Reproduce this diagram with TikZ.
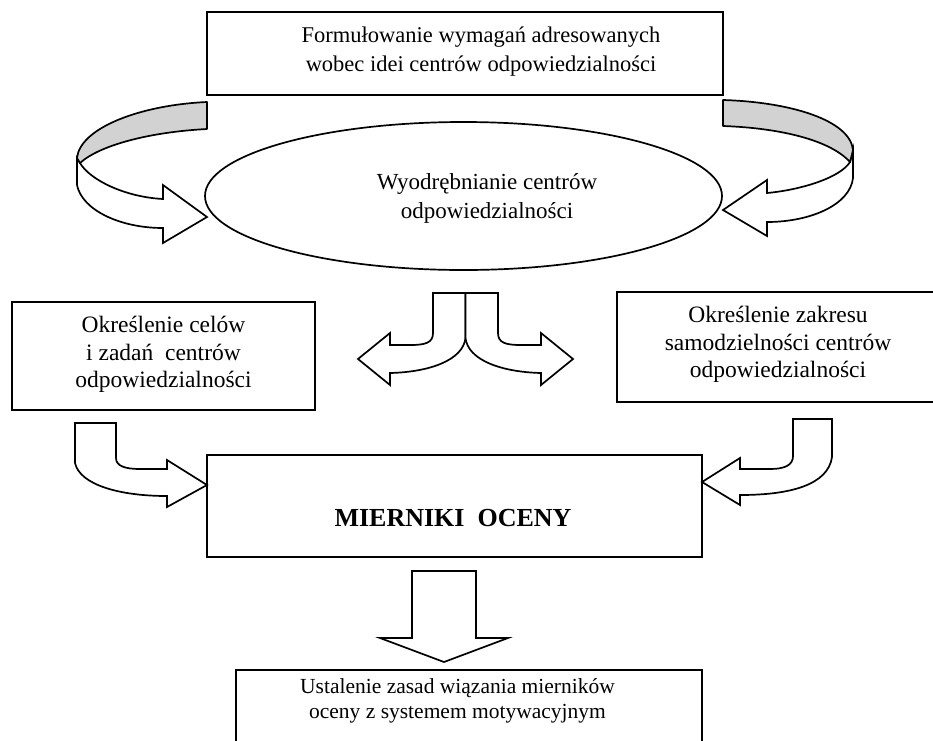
\documentclass[tikz,border=0pt]{standalone}
\usepackage{fontspec}
\setmainfont{Liberation Serif}
\usetikzlibrary{shapes.geometric}
\begin{document}
\begin{tikzpicture}[x=1pt,y=-1pt,
  box/.style={draw,line width=1.7pt,rectangle,inner sep=0pt},
  txt/.style={align=center,inner sep=0pt},
  blockarrow/.style={draw,line width=1.7pt,fill=white,line join=miter},
  band/.style={draw,line width=1.7pt,fill=gray!35,line join=round}]
\useasboundingbox (0,0) rectangle (933,740);

% boxes
\node[box,minimum width=516pt,minimum height=83pt] (top) at (465,53.5) {};
\node[txt,font=\fontsize{22.5}{29}\selectfont] (toptxt) at (481,51.5) {Formułowanie wymagań adresowanych\\wobec idei centrów odpowiedzialności};

% ribbon arrows
\draw[blockarrow] (77,158) -- (77,185) .. controls (82,210) and (120,228) .. (163,228) -- (163,243) -- (207,217) -- (163,185) -- (163,199) .. controls (125,197) and (90,180) .. (80,163) -- cycle;
\draw[band] (207,102) .. controls (140,105) and (80,128) .. (77,158) -- (80,163) .. controls (100,145) and (150,132) .. (207,129) -- cycle;
\draw[blockarrow] (853,150) -- (853,178) .. controls (850,205) and (810,222) .. (767,222) -- (767,236) -- (723,210) -- (767,180) -- (767,193) .. controls (800,190) and (840,178) .. (850,162) -- cycle;
\draw[band] (723,100) .. controls (790,102) and (850,120) .. (853,150) -- (850,162) .. controls (830,140) and (780,128) .. (723,126) -- cycle;

\node[ellipse,draw,line width=1.7pt,minimum width=517pt,minimum height=148pt,inner sep=0pt] (ell) at (463.5,196) {};
\node[txt,font=\fontsize{23}{29}\selectfont] (elltxt) at (487,198.5) {Wyodrębnianie centrów\\odpowiedzialności};

% middle boxes
\node[box,minimum width=303pt,minimum height=108pt] (left) at (163.5,356) {};
\node[txt,font=\fontsize{23.5}{27.5}\selectfont] (lefttxt) at (163.5,354.5) {Określenie celów\\i zadań\ \ centrów\\odpowiedzialności};
\node[box,minimum width=323pt,minimum height=110pt] (right) at (778.5,347) {};
\node[txt,font=\fontsize{23.5}{27.5}\selectfont] (righttxt) at (778,344.5) {Określenie zakresu\\samodzielności centrów\\odpowiedzialności};

% branching arrow
\draw[blockarrow] (465.5,293) -- (433,293) -- (433,333) .. controls (433,343) and (425,345) .. (410,345) -- (390,345) -- (390,333) -- (358,359) -- (390,385) -- (390,373) .. controls (430,372) and (463,360) .. (465.5,338) -- cycle;
\draw[blockarrow] (465.5,293) -- (498,293) -- (498,333) .. controls (498,343) and (506,345) .. (521,345) -- (541,345) -- (541,333) -- (573,359) -- (541,385) -- (541,373) .. controls (501,372) and (468,360) .. (465.5,338) -- cycle;

% MIERNIKI
\node[box,minimum width=495pt,minimum height=102pt] (mier) at (454.5,506) {};
\node[txt,font=\fontsize{26}{30}\selectfont\bfseries] (miertxt) at (453,518) {MIERNIKI\ \ OCENY};

% lower bent arrows
\draw[blockarrow] (75,423) -- (116,423) -- (116,458) .. controls (116,466) and (125,469) .. (140,469) -- (167,469) -- (167,460) -- (207,485) -- (167,507) -- (167,496) .. controls (120,496) and (80,485) .. (75,463) -- cycle;
\draw[blockarrow] (832,419) -- (793,419) -- (793,456) .. controls (793,465) and (785,469) .. (770,469) -- (740,469) -- (740,458) -- (702,482) -- (740,505) -- (740,495) .. controls (790,495) and (828,485) .. (832,457) -- cycle;

% down arrow
\draw[blockarrow] (412,571) -- (476,571) -- (476,638) -- (508,638) -- (444,662) -- (380,638) -- (412,638) -- cycle;

% bottom box
\node[box,minimum width=466pt,minimum height=90pt] (bot) at (469,715) {};
\node[txt,font=\fontsize{21.5}{25}\selectfont] (bottxt) at (457.5,700.5) {Ustalenie zasad wiązania mierników\\oceny z systemem motywacyjnym};
\end{tikzpicture}
\end{document}
